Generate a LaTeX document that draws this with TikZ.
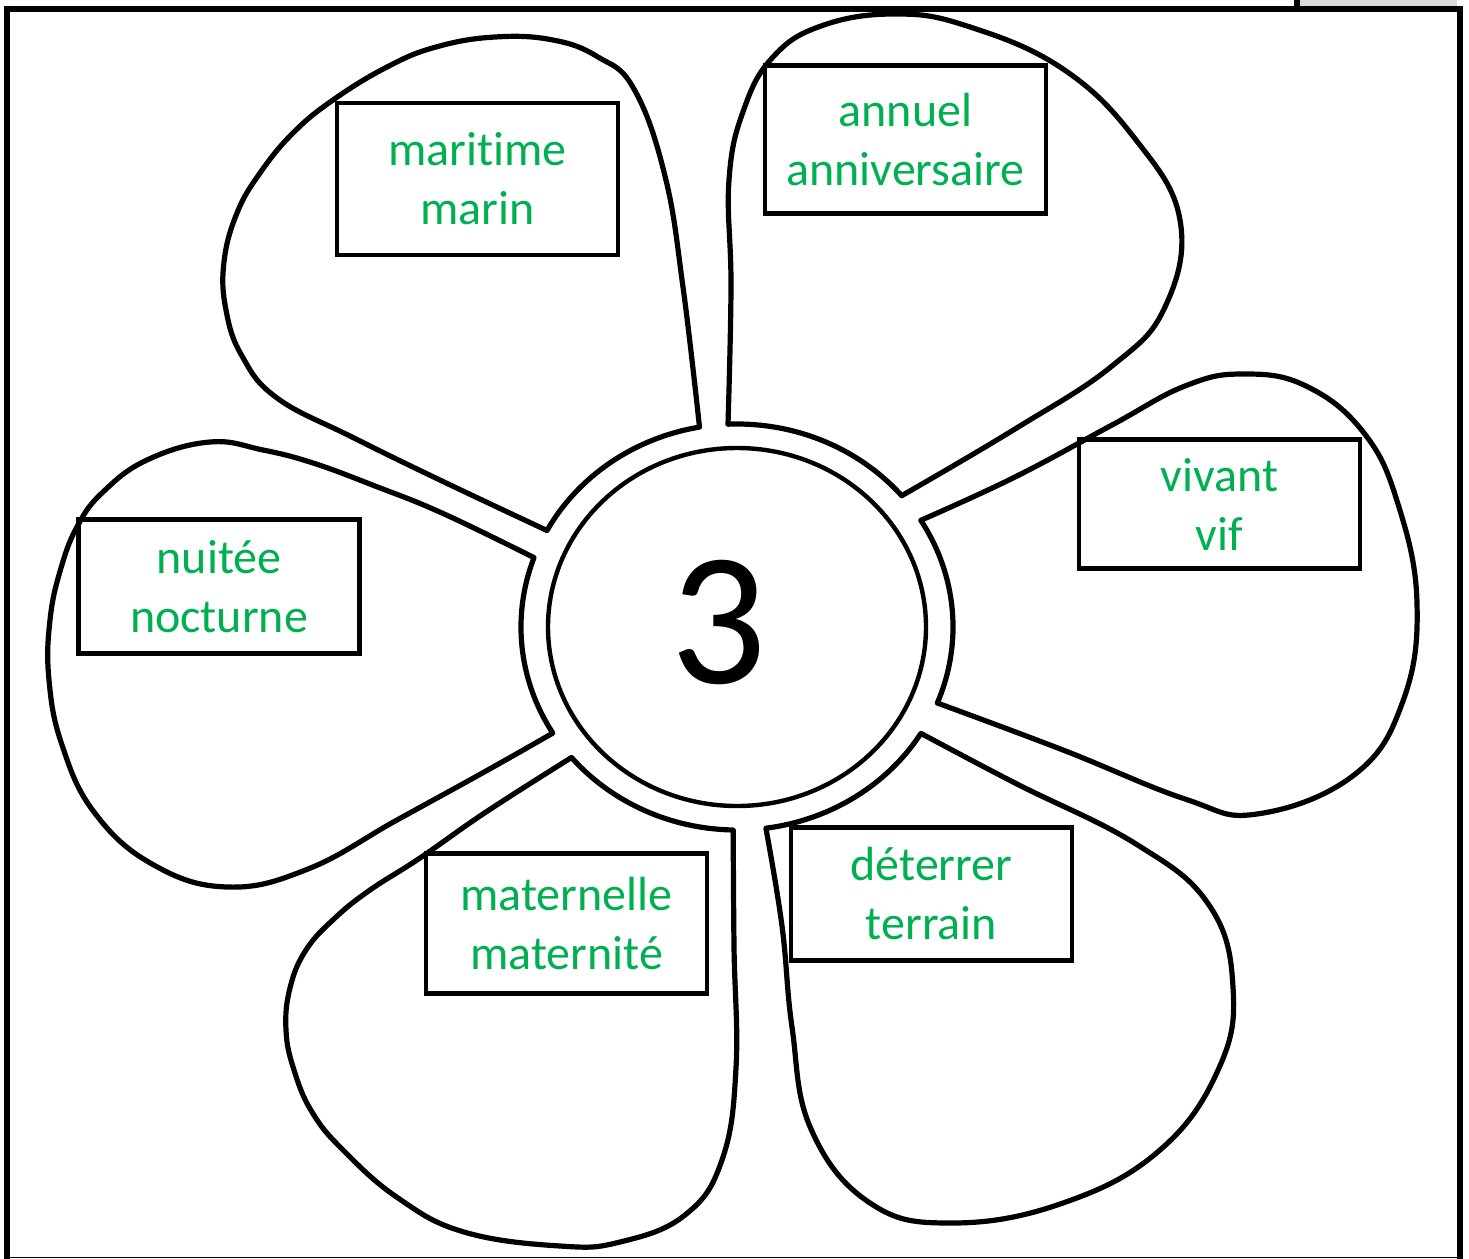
\documentclass[tikz,border=0pt]{standalone}
\usepackage{fontspec}
\setmainfont{Carlito}[Ligatures=NoCommon]
\usepackage{tikz}

\definecolor{wordgreen}{RGB}{0,176,80}

\begin{document}
\begin{tikzpicture}[
    x=0.5pt, y=-0.5pt,
    petal/.style={draw, line width=2.6pt, line join=round},
    ring/.style={draw, line width=2.2pt},
    wordbox/.style={rectangle, draw, line width=2.4pt, minimum width=140.5pt, align=center, text=wordgreen, font=\fontsize{24}{29.5}\selectfont},
    frame/.style={line width=3pt},
]
\useasboundingbox (0,0) rectangle (1469,1259);

% Page frame
\fill[gray!30] (1300,0) rectangle (1457,6);
\fill (1294,0) rectangle (1300,6);
\draw[frame] (4,9) -- (1463,9);
\draw[frame] (7,6) -- (7,1259);
\draw[frame] (1460,6) -- (1460,1259);
\draw[line width=0.8pt] (7,1257.5) -- (1460,1257.5);

% Heart of the flower
\draw[ring] (737,627) ellipse[x radius=189, y radius=179];
\node[font=\fontsize{95}{95}\selectfont] (number) at (719,622) {3};

% Petals (clockwise from the top)
\draw[petal] plot[smooth, tension=0.7] coordinates {(728.0,424.2) (731,287) (729,180) (744,109) (773,57) (821,26) (894,14) (967,26) (1063,69) (1136,140) (1180,220) (1165,307) (1112,366) (1015,429) (901.7,495.7)}
    arc[start angle=-40.3, end angle=-92.4, x radius=216, y radius=203] -- cycle;
\draw[petal] plot[smooth, tension=0.7] coordinates {(920.8,520.3) (1015,477) (1112,425) (1185,386) (1243,374) (1306,386) (1364,433) (1398,504) (1417,603) (1403,701) (1354,775) (1257,814) (1185,799) (1063,750) (937.3,703.0)}
    arc[start angle=22, end angle=-31.7, x radius=216, y radius=203] -- cycle;
\draw[petal] plot[smooth, tension=0.7] coordinates {(921.0,733.4) (1015,783) (1136,844) (1209,905) (1233,987) (1219,1068) (1160,1150) (1063,1203) (952,1223) (870,1203) (811,1129) (792,1027) (782,926) (765.9,828.2)}
    arc[start angle=82.3, end angle=31.6, x radius=216, y radius=203] -- cycle;
\draw[petal] plot[smooth, tension=0.7] coordinates {(733.2,830.0) (734,946) (736,1068) (722,1160) (685,1215) (620,1242) (560,1246) (464,1232) (398,1198) (343,1150) (312,1112) (294,1070) (286,1030) (290,988) (306,950) (335,918) (370,890) (420,858) (486,812) (571.5,757.5)}
    arc[start angle=140, end angle=91, x radius=216, y radius=203] -- cycle;
\draw[petal] plot[smooth, tension=0.7] coordinates {(552.8,733.1) (486,771) (397,820) (308,869) (227,887) (152,864) (94,812) (62,745) (49,680) (50,620) (61,568) (78,525) (103,492) (147,460) (210,442) (263,450) (313,463) (375,486) (442,513) (534.0,557.6)}
    arc[start angle=200, end angle=148.5, x radius=216, y radius=203] -- cycle;
\draw[petal] plot[smooth, tension=0.7] coordinates {(547.0,530.5) (442,481) (352,437) (277,398) (242,356) (226,310) (224,262) (237,213) (260,173) (293,133) (333,100) (387,67) (436,47) (495,37) (553,40) (598,57) (634,89) (665,176) (683,287) (699.5,427.1)}
    arc[start angle=260, end angle=208.4, x radius=216, y radius=203] -- cycle;

% Word boxes
\node[wordbox, minimum height=76pt] (maritime) at (477.5,179) {maritime\\marin};
\node[wordbox, minimum height=74pt] (annuel) at (905.5,139.5) {annuel\\anniversaire};
\node[wordbox, minimum height=64.5pt] (vivant) at (1219.5,504) {vivant\\vif};
\node[wordbox, minimum height=67pt] (nuitee) at (219,586.5) {nuitée\\nocturne};
\node[wordbox, minimum height=70pt] (maternelle) at (566.5,923.5) {maternelle\\maternité};
\node[wordbox, minimum height=66.5pt] (deterrer) at (931.5,894) {déterrer\\terrain};

\end{tikzpicture}
\end{document}
